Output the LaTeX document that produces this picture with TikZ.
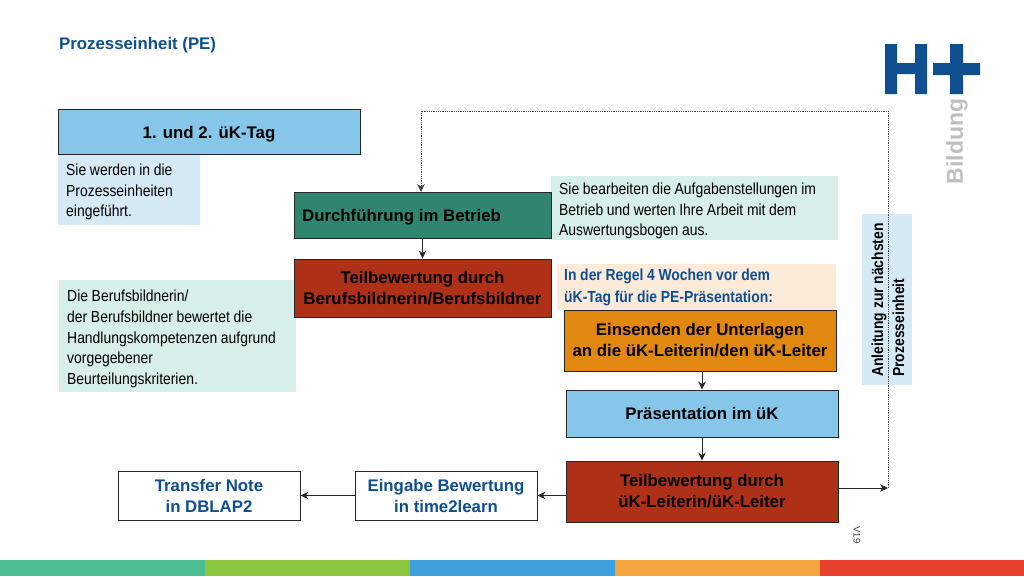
\documentclass[tikz,border=0pt]{standalone}
\usepackage{fontspec}
\setmainfont{Liberation Sans}
\newfontfamily\narrowfont[FakeStretch=0.87,WordSpace=0.95]{Liberation Sans}
\usetikzlibrary{arrows.meta}
\definecolor{pedarkblue}{HTML}{0F4F8F}
\definecolor{peblue}{HTML}{85C6E9}
\definecolor{pelightblue}{HTML}{D6EAF6}
\definecolor{pemint}{HTML}{D7EFE8}
\definecolor{pegreen}{HTML}{2F8570}
\definecolor{pered}{HTML}{AE3017}
\definecolor{peorange}{HTML}{E2870F}
\definecolor{pepeach}{HTML}{FCEBD9}
\tikzset{
  x=1pt,y=-1pt,>={Stealth[length=8pt,width=7.5pt]},
  flowbox/.style={draw=black!85!white,line width=0.9pt,anchor=center,align=center,inner sep=0pt,
    font=\fontsize{16.8}{21}\selectfont\bfseries},
  notebox/.style={anchor=north west,align=left,inner sep=0pt,
    font=\narrowfont\fontsize{16}{20.6}\selectfont},
  flow/.style={->,line width=0.9pt,black!85!white},
  dotline/.style={line width=0.8pt,densely dotted,black!75!white},
}
\begin{document}
\begin{tikzpicture}
  \useasboundingbox (0,0) rectangle (1024,576);

  % footer strip
  \fill[fill={rgb,255:red,77;green,189;blue,146}] (0,560) rectangle (205,576);
  \fill[fill={rgb,255:red,140;green,198;blue,63}] (205,560) rectangle (410,576);
  \fill[fill={rgb,255:red,63;green,159;blue,220}] (410,560) rectangle (615,576);
  \fill[fill={rgb,255:red,245;green,165;blue,63}] (615,560) rectangle (820,576);
  \fill[fill={rgb,255:red,232;green,64;blue,46}] (820,560) rectangle (1024,576);

  % logo
  \fill[pedarkblue] (885,44) rectangle (897,94) (915,44) rectangle (927,94) (897,63) rectangle (915,74);
  \fill[pedarkblue] (950,44) rectangle (963,94) (933,63) rectangle (980,75);
  \node (bildung) at (957,141.5) [rotate=90,text=black!25!white,inner sep=0pt,font=\fontsize{23}{24}\selectfont\bfseries] {Bildung};

  \node (title) at (59,45) [anchor=west,inner sep=0pt,text=pedarkblue,font=\fontsize{16.8}{18}\selectfont\bfseries] {Prozesseinheit (PE)};

  % notes
  \fill[pelightblue] (58,155) rectangle (200,225);
  \node (n1) at (66,164) [notebox] {Sie werden in die\\Prozesseinheiten\\eingeführt.};
  \fill[pemint] (551,176) rectangle (838,240);
  \node (n2) at (559,183) [notebox] {Sie bearbeiten die Aufgabenstellungen im\\Betrieb und werten Ihre Arbeit mit dem\\Auswertungsbogen aus.};
  \fill[pemint] (59,280) rectangle (296,392);
  \node (n3) at (67,290) [notebox] {Die Berufsbildnerin/\\der Berufsbildner bewertet die\\Handlungskompetenzen aufgrund\\vorgegebener\\Beurteilungskriterien.};
  \fill[pepeach] (557,264) rectangle (836,310);
  \node (n4) at (564,269) [notebox,text=pedarkblue,font=\narrowfont\fontsize{16}{22}\selectfont\bfseries] {In der Regel 4 Wochen vor dem\\üK-Tag für die PE-Präsentation:};
  \fill[pelightblue] (862,214) rectangle (912,385);
  \node (n5) at (888,300) [rotate=90,align=left,inner sep=0pt,font=\narrowfont\fontsize{16}{21}\selectfont\bfseries] {Anleitung zur nächsten\\Prozesseinheit};

  % boxes
  \node (tag) at (209,131.5) [flowbox,fill=peblue,minimum width=302pt,minimum height=45pt,text height=17pt] {1. und 2. üK-Tag};
  \node (betrieb) at (422.5,215) [flowbox,fill=pegreen,minimum width=257pt,minimum height=46pt] {};
  \node (betriebtext) at (302,217) [anchor=west,inner sep=0pt,font=\fontsize{16.8}{21}\selectfont\bfseries] {Durchführung im Betrieb};
  \node (teil) at (422.5,288) [flowbox,fill=pered,minimum width=257pt,minimum height=58pt] {Teilbewertung durch\\Berufsbildnerin/Berufsbildner};
  \node (einsenden) at (700,340.5) [flowbox,fill=peorange,minimum width=272pt,minimum height=61pt] {Einsenden der Unterlagen\\an die üK-Leiterin/den üK-Leiter};
  \node (praes) at (702,413.5) [flowbox,fill=peblue,minimum width=272pt,minimum height=47pt] {Präsentation im üK};
  \node (teilzwei) at (702,491.5) [flowbox,fill=pered,minimum width=272pt,minimum height=61pt] {Teilbewertung durch\\üK-Leiterin/üK-Leiter};
  \node (eingabe) at (446,495.5) [flowbox,fill=white,text=pedarkblue,minimum width=182pt,minimum height=49pt] {Eingabe Bewertung\\in time2learn};
  \node (transfer) at (209,495.5) [flowbox,fill=white,text=pedarkblue,minimum width=182pt,minimum height=49pt] {Transfer Note\\in DBLAP2};

  \node (version) at (857,535) [rotate=-90,inner sep=0pt,text=black!75!white,font=\fontsize{9.5}{10}\selectfont] {V19};

  % helper points
  \coordinate (tagdown) at (210,154);
  \coordinate (teildown) at (419,317);
  \coordinate (rechts) at (888,488);
  \coordinate (rechtsoben) at (888,111);
  \coordinate (dotin) at (421,192);
  \coordinate (obenlinks) at (421,111);

  \path[flow]
    (tagdown) |- (betrieb.west)
    (betrieb.south) edge (teil.north)
    (teildown) |- (einsenden.west)
    (einsenden.south -| praes.north) edge (praes.north)
    (praes.south) edge (teilzwei.north)
    (teilzwei.west |- eingabe.east) edge (eingabe.east)
    (eingabe.west) edge (transfer.east)
    (teilzwei.east |- rechts) edge (rechts)
  ;
  \draw[dotline,->] (rechts) -- (rechtsoben) -- (obenlinks) -- (dotin);
\end{tikzpicture}
\end{document}
